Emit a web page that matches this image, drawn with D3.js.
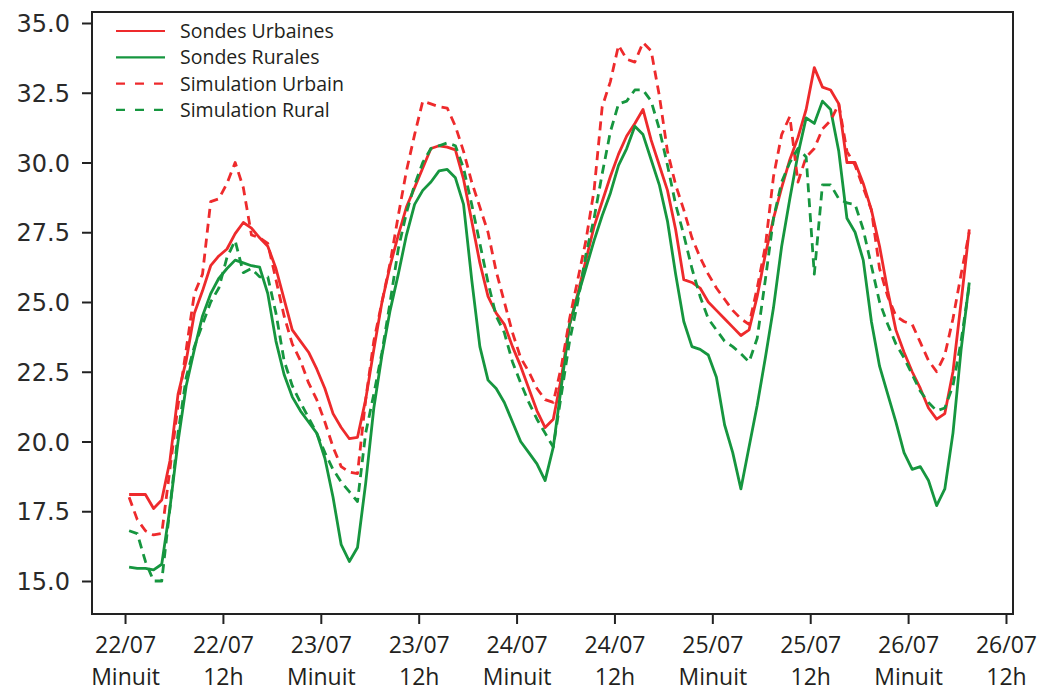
<!DOCTYPE html>
<html><head><meta charset="utf-8">
<script src="https://cdn.jsdelivr.net/npm/d3@7"></script>
<style>body{margin:0;background:#fff;} svg{display:block;}</style>
</head><body>
<svg id="chart" width="1046" height="692"></svg>
<script>
// Hours since 22/07 00:00 (hourly samples, half past each hour)
const hours = d3.range(0.5, 104, 1);

const sondesUrbaines = [18.1,18.1,18.1,17.6,17.9,19.3,21.7,22.9,24.6,25.4,26.3,26.65,26.9,27.45,27.85,27.65,27.3,27.0,26.2,25.1,
24.0,23.6,23.2,22.6,21.9,21.0,20.5,20.1,20.15,21.5,23.3,25.0,26.3,27.4,28.4,29.1,29.8,30.5,30.6,30.55,
30.45,29.4,27.9,26.4,25.2,24.6,24.2,23.4,22.7,21.9,21.1,20.5,20.8,22.3,24.2,25.3,26.5,27.7,28.6,29.5,
30.3,30.95,31.4,31.9,30.8,29.9,29.0,27.6,25.8,25.7,25.5,25.0,24.7,24.4,24.1,23.8,24.0,25.2,26.7,28.0,
29.1,30.1,30.9,31.9,33.4,32.7,32.6,32.1,30.0,30.0,29.25,28.3,27.0,25.4,24.0,23.2,22.5,21.9,21.2,20.8,
21.0,22.5,25.0,27.6];

const sondesRurales = [15.5,15.45,15.45,15.4,15.6,17.6,20.0,22.0,23.3,24.5,25.3,25.85,26.2,26.5,26.4,26.3,26.25,25.3,23.6,22.4,
21.6,21.1,20.7,20.3,19.4,18.0,16.3,15.7,16.2,18.5,21.2,23.1,24.7,26.0,27.4,28.5,29.0,29.3,29.7,29.75,
29.45,28.5,25.8,23.4,22.2,21.9,21.4,20.7,20.0,19.6,19.2,18.6,19.8,22.0,24.2,25.2,26.2,27.2,28.1,28.9,
29.9,30.5,31.3,31.0,30.1,29.2,27.9,26.0,24.3,23.4,23.3,23.1,22.3,20.6,19.6,18.3,19.8,21.3,23.0,24.8,
27.0,28.7,30.3,31.6,31.4,32.2,31.9,30.4,28.0,27.5,26.5,24.3,22.7,21.7,20.7,19.6,19.0,19.1,18.6,17.7,
18.3,20.3,23.3,25.7];

const simulationUrbain = [18.0,17.2,16.8,16.65,16.7,19.0,21.3,23.3,25.3,26.0,28.6,28.7,29.25,30.0,29.1,27.4,27.3,27.1,25.8,24.5,
23.5,22.9,22.1,21.5,20.7,19.8,19.1,18.9,18.85,21.5,23.6,25.0,26.4,28.1,29.7,31.0,32.2,32.1,32.0,31.95,
31.3,30.4,29.3,28.4,27.5,26.1,25.0,23.9,23.0,22.5,21.9,21.5,21.4,22.7,24.4,25.8,27.2,29.0,32.0,32.9,
34.2,33.7,33.6,34.3,34.0,32.4,30.4,29.2,28.3,27.3,26.6,26.0,25.5,25.1,24.7,24.4,24.2,25.5,27.0,29.5,
31.0,31.65,29.3,30.2,30.5,31.2,31.5,32.1,30.4,29.9,29.1,28.3,26.2,25.2,24.5,24.3,24.2,23.55,22.9,22.5,
23.1,24.4,26.0,27.5];

const simulationRural = [16.8,16.7,15.7,15.0,15.0,17.6,20.3,22.3,23.4,24.2,25.0,25.5,26.6,27.2,26.05,26.2,25.9,25.9,24.6,22.9,
22.0,21.4,20.85,20.3,19.6,19.0,18.55,18.2,17.85,20.3,21.7,23.2,25.0,26.9,28.2,29.2,30.0,30.5,30.6,30.7,
30.6,29.8,28.5,27.1,25.7,24.5,23.9,22.85,22.1,21.4,20.8,20.3,19.8,21.7,23.6,25.0,26.7,28.0,29.6,31.1,
32.1,32.2,32.6,32.6,32.2,31.2,29.9,28.5,27.4,26.2,25.2,24.4,24.0,23.6,23.4,23.15,22.85,23.7,25.8,28.0,
29.3,30.0,30.5,30.2,26.0,29.2,29.2,28.7,28.55,28.5,27.6,26.3,25.0,24.2,23.5,23.0,22.4,21.8,21.4,21.1,
21.2,22.0,23.6,25.6];

const seriesNames = ["Sondes Urbaines","Sondes Rurales","Simulation Urbain","Simulation Rural"];
const seriesValues = [sondesUrbaines, sondesRurales, simulationUrbain, simulationRural];
const seriesColors = ["#ee2a2c","#16963f","#ee2a2c","#16963f"];
const seriesDashed = [false,false,true,true];

const yTicks = [15.0,17.5,20.0,22.5,25.0,27.5,30.0,32.5,35.0];
const xTicks = [0,12,24,36,48,60,72,84,96,108];
const xTickTop = ["22/07","22/07","23/07","23/07","24/07","24/07","25/07","25/07","26/07","26/07"];
const xTickBottom = ["Minuit","12h","Minuit","12h","Minuit","12h","Minuit","12h","Minuit","12h"];

const svg = d3.select("#chart");
const L = 92, R = 1013, T = 12, B = 614;
const x = d3.scaleLinear().domain([-4.05, 108.86]).range([L, R]);
const y = d3.scaleLinear().domain([13.817, 35.394]).range([B, T]);

const line = d3.line().x(d => x(d[0])).y(d => y(d[1]));
[0,1,2,3].forEach(i => {
  const pts = hours.map((h, k) => [h, seriesValues[i][k]]);
  svg.append("path")
    .attr("d", line(pts))
    .attr("fill", "none")
    .attr("stroke", seriesColors[i])
    .attr("stroke-width", 2.8)
    .attr("stroke-linejoin", "round")
    .attr("stroke-dasharray", seriesDashed[i] ? "9,6" : null);
});

// frame
svg.append("rect").attr("x", L).attr("y", T).attr("width", R - L).attr("height", B - T)
  .attr("fill", "none").attr("stroke", "#222").attr("stroke-width", 2);

// y axis
const yAxis = d3.axisLeft(y).tickValues(yTicks).tickFormat(d3.format(".1f")).tickSize(10).tickPadding(12);
const gy = svg.append("g").attr("transform", `translate(${L},0)`).call(yAxis);
gy.select(".domain").remove();
gy.selectAll(".tick line").attr("stroke", "#222").attr("stroke-width", 2);
gy.selectAll(".tick text").attr("fill", "#2a2a2a")
  .style("font-family", "'DejaVu Sans', sans-serif").style("font-size", "24px")
  .attr("dy", "0.36em");

// x axis
const xAxis = d3.axisBottom(x).tickValues(xTicks).tickFormat("").tickSize(10);
const gx = svg.append("g").attr("transform", `translate(0,${B})`).call(xAxis);
gx.select(".domain").remove();
gx.selectAll(".tick line").attr("stroke", "#222").attr("stroke-width", 2);
gx.selectAll(".tick").each(function(d, i) {
  const t = d3.select(this).append("text").attr("fill", "#231f20")
    .attr("text-anchor", "middle")
    .style("font-family", "'Open Sans', sans-serif").style("font-size", "23px");
  t.append("tspan").attr("x", 0).attr("y", 39).text(xTickTop[i]);
  t.append("tspan").attr("x", 0).attr("y", 71).text(xTickBottom[i]);
});

// legend
const lg = svg.append("g");
seriesNames.forEach((n, i) => {
  const cy = 31 + i * 26.3;
  lg.append("line").attr("x1", 116).attr("x2", 165).attr("y1", cy).attr("y2", cy)
    .attr("stroke", seriesColors[i]).attr("stroke-width", 2.2)
    .attr("stroke-dasharray", seriesDashed[i] ? "9,10" : null);
  lg.append("text").attr("x", 180).attr("y", cy + 7).text(n)
    .attr("fill", "#231f20")
    .style("font-family", "'Open Sans', sans-serif").style("font-size", "19.5px");
});
</script>
</body></html>
